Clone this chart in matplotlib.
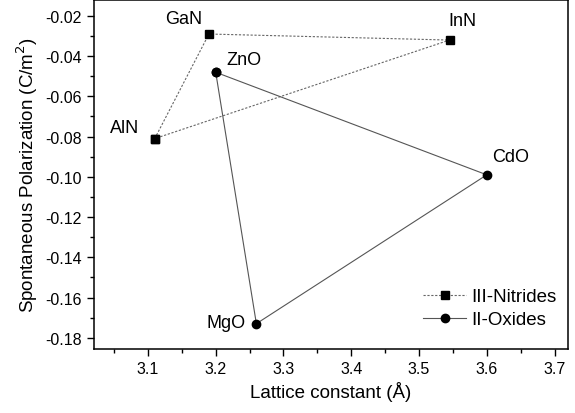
import matplotlib
matplotlib.use('Agg')
import matplotlib.pyplot as plt
from matplotlib.ticker import MultipleLocator

plt.rcParams['font.family'] = ['Liberation Sans', 'DejaVu Sans']

# III-Nitrides (closed loop AlN -> GaN -> InN -> AlN)
nitride_names = ['AlN', 'GaN', 'InN']
nitride_a = [3.11, 3.19, 3.545]
nitride_p = [-0.081, -0.029, -0.032]

# II-Oxides (closed loop ZnO -> CdO -> MgO -> ZnO)
oxide_names = ['ZnO', 'CdO', 'MgO']
oxide_a = [3.20, 3.60, 3.26]
oxide_p = [-0.048, -0.099, -0.173]

label_offsets = {'AlN': (-22, 8), 'GaN': (-18, 11), 'InN': (9, 14),
                 'ZnO': (20, 9), 'CdO': (17, 13), 'MgO': (-22, 1)}

fig = plt.figure(figsize=(5.75, 4.14), dpi=100)
ax = fig.add_axes([0.163, 0.155, 0.825, 0.843])

ax.plot(nitride_a + nitride_a[:1], nitride_p + nitride_p[:1], color='#666666',
        ls=(0, (2, 1.5)), lw=0.8, marker='s', ms=5.5, mfc='black', mec='black',
        label='III-Nitrides')
ax.plot(oxide_a + oxide_a[:1], oxide_p + oxide_p[:1], color='#555555',
        ls='-', lw=0.8, marker='o', ms=6, mfc='black', mec='black',
        label='II-Oxides')

for names, xs, ys in [(nitride_names, nitride_a, nitride_p),
                      (oxide_names, oxide_a, oxide_p)]:
    for n, x, y in zip(names, xs, ys):
        ax.annotate(n, (x, y), xytext=label_offsets[n], textcoords='offset points',
                    ha='center', va='center', fontsize=13)

ax.set_xlim(3.02, 3.72)
ax.set_ylim(-0.1855, -0.012)
ax.xaxis.set_minor_locator(MultipleLocator(0.05))
ax.yaxis.set_minor_locator(MultipleLocator(0.01))
ax.set_xticks([3.1, 3.2, 3.3, 3.4, 3.5, 3.6, 3.7])
ax.set_yticks([-0.02, -0.04, -0.06, -0.08, -0.10, -0.12, -0.14, -0.16, -0.18])
ax.set_yticklabels(['-0.02', '-0.04', '-0.06', '-0.08', '-0.10', '-0.12',
                    '-0.14', '-0.16', '-0.18'])
ax.tick_params(which='major', direction='out', length=5, width=1, labelsize=11.5)
ax.tick_params(which='minor', direction='out', length=3, width=1)
for s in ax.spines.values():
    s.set_linewidth(1.1)

ax.set_xlabel('Lattice constant (Å)', fontsize=13.5)
ax.set_ylabel('Spontaneous Polarization (C/m$^2$)', fontsize=13.5)

ax.legend(loc='lower right', bbox_to_anchor=(1.02, 0.0), frameon=False,
          fontsize=13.5, handlelength=2.3, borderaxespad=0.7,
          handletextpad=0.3, labelspacing=0.3)

fig.savefig('out.png', dpi=100)
